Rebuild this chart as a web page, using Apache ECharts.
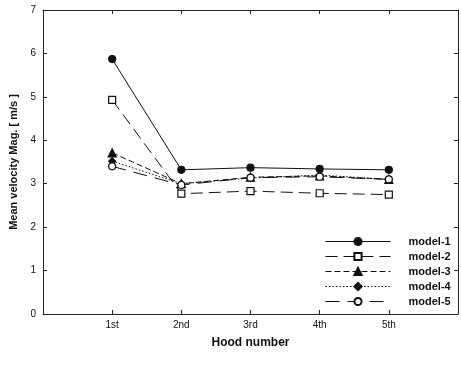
<!DOCTYPE html>
<html>
<head>
<meta charset="utf-8">
<script src="https://cdn.jsdelivr.net/npm/echarts@6/dist/echarts.min.js"></script>
<style>
  html, body { margin: 0; padding: 0; background: #fff; }
  #container { width: 461px; height: 365px; }
</style>
</head>
<body>
<div id="container"></div>
<script>
var hoods = ['1st', '2nd', '3rd', '4th', '5th'];
var model1 = [5.87, 3.32, 3.37, 3.34, 3.32];
var model2 = [4.93, 2.77, 2.83, 2.78, 2.75];
var model3 = [3.71, 3.00, 3.15, 3.18, 3.10];
var model4 = [3.52, 3.00, 3.13, 3.20, 3.10];
var model5 = [3.40, 2.97, 3.14, 3.16, 3.10];

var chart = echarts.init(document.getElementById('container'));

function pts(arr) {
  return arr.map(function (v, i) { return [i + 1, v]; });
}

function mk(name, data, symbol, fill, dash) {
  return {
    name: name,
    type: 'line',
    data: pts(data),
    symbol: symbol,
    symbolSize: name === 'model-3' ? 8 : 7,
    showSymbol: true,
    lineStyle: { color: '#111', width: 1, type: dash },
    itemStyle: { color: fill, borderColor: '#111', borderWidth: 1.2 },
    emphasis: { disabled: true },
    animation: false
  };
}

var axisCol = '#222';
var option = {
  backgroundColor: '#fff',
  animation: false,
  grid: { left: 43, top: 10, width: 420, height: 304 },
  legend: {
    orient: 'vertical',
    left: 320,
    top: 231,
    itemWidth: 65,
    itemHeight: 9,
    itemGap: 4,
    lineStyle: { width: 1 },
    textStyle: { fontFamily: 'Liberation Sans', fontWeight: 'bold', fontSize: 11, color: '#111', padding: [0, 0, 0, 13] },
    data: ['model-1', 'model-2', 'model-3', 'model-4', 'model-5']
  },
  xAxis: [{
    type: 'value',
    min: 0, max: 6, interval: 1,
    name: 'Hood number',
    nameLocation: 'middle',
    nameGap: 23,
    nameTextStyle: { fontFamily: 'Liberation Sans', fontWeight: 'bold', fontSize: 12, color: '#111' },
    axisLine: { onZero: false, lineStyle: { color: axisCol, width: 1 } },
    axisTick: { inside: true, length: 4, lineStyle: { color: axisCol } },
    splitLine: { show: false },
    axisLabel: {
      fontFamily: 'Liberation Sans', fontSize: 10, color: '#111', margin: 6,
      formatter: function (v) { return hoods[v - 1] || ''; }
    }
  }, {
    type: 'value', position: 'top',
    min: 0, max: 6, interval: 1,
    axisLine: { show: true, onZero: false, lineStyle: { color: axisCol, width: 1 } },
    axisTick: { show: true, inside: true, length: 4, lineStyle: { color: axisCol } },
    axisLabel: { show: false },
    splitLine: { show: false }
  }],
  yAxis: [{
    type: 'value',
    min: 0, max: 7, interval: 1,
    name: 'Mean velocity Mag. [ m/s ]',
    nameLocation: 'middle',
    nameGap: 24,
    nameTextStyle: { fontFamily: 'Liberation Sans', fontWeight: 'bold', fontSize: 11, color: '#111' },
    axisLine: { show: true, onZero: false, lineStyle: { color: axisCol, width: 1 } },
    axisTick: { show: true, inside: true, length: 4, lineStyle: { color: axisCol } },
    splitLine: { show: false },
    axisLabel: { fontFamily: 'Liberation Sans', fontSize: 10, color: '#111', margin: 7 }
  }, {
    type: 'value', position: 'right',
    min: 0, max: 7, interval: 1,
    axisLine: { show: true, onZero: false, lineStyle: { color: axisCol, width: 1 } },
    axisTick: { show: true, inside: true, length: 4, lineStyle: { color: axisCol } },
    axisLabel: { show: false },
    splitLine: { show: false }
  }],
  series: [
    mk('model-1', model1, 'circle', '#111', 'solid'),
    mk('model-2', model2, 'rect', '#fff', [12, 6]),
    mk('model-3', model3, 'triangle', '#111', [6, 3]),
    mk('model-4', model4, 'diamond', '#111', [1.5, 2]),
    mk('model-5', model5, 'circle', '#fff', [14, 8])
  ]
};

chart.setOption(option);
</script>
</body>
</html>
